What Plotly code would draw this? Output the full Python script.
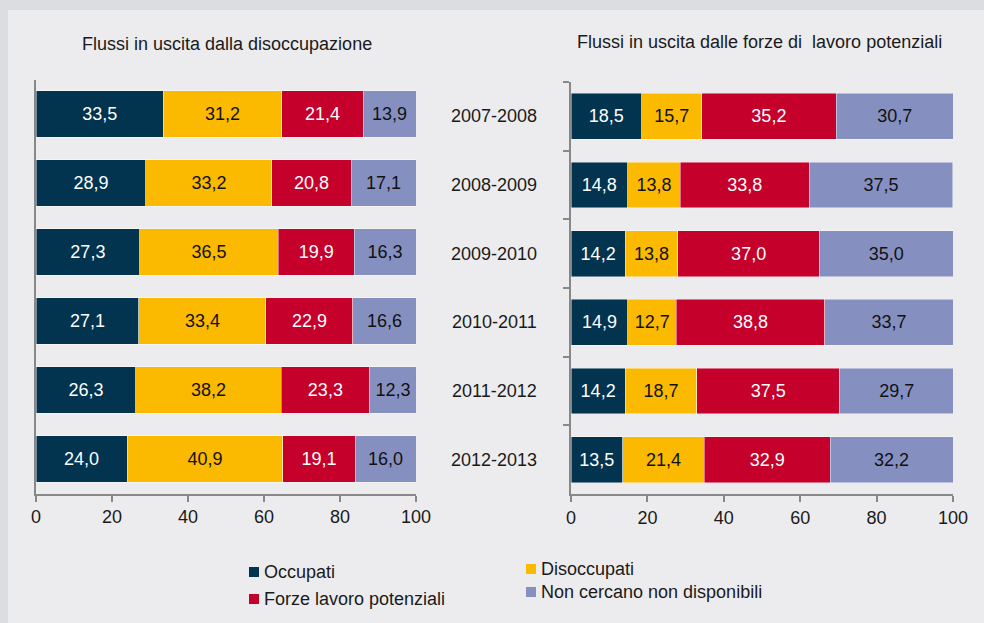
import plotly.graph_objects as go

periods = ["2007-2008", "2008-2009", "2009-2010", "2010-2011", "2011-2012", "2012-2013"]
series_names = ["Occupati", "Disoccupati", "Forze lavoro potenziali", "Non cercano non disponibili"]

# Flussi in uscita dalla disoccupazione
dis_occupati = [33.5, 28.9, 27.3, 27.1, 26.3, 24.0]
dis_disoccupati = [31.2, 33.2, 36.5, 33.4, 38.2, 40.9]
dis_forze = [21.4, 20.8, 19.9, 22.9, 23.3, 19.1]
dis_noncercano = [13.9, 17.1, 16.3, 16.6, 12.3, 16.0]

# Flussi in uscita dalle forze di lavoro potenziali
flp_occupati = [18.5, 14.8, 14.2, 14.9, 14.2, 13.5]
flp_disoccupati = [15.7, 13.8, 13.8, 12.7, 18.7, 21.4]
flp_forze = [35.2, 33.8, 37.0, 38.8, 37.5, 32.9]
flp_noncercano = [30.7, 37.5, 35.0, 33.7, 29.7, 32.2]

x_ticks = [0, 20, 40, 60, 80, 100]
titles = ["Flussi in uscita dalla disoccupazione", "Flussi in uscita dalle forze di  lavoro potenziali"]

colors = ["#02334F", "#FBBA00", "#C4002B", "#8690C0"]
text_colors = ["#FFFFFF", "#111111", "#FFFFFF", "#111111"]
FONT = "Liberation Sans, Arial, sans-serif"
FS = 18

W, H = 984, 623
fig = go.Figure()

left_sets = [dis_occupati, dis_disoccupati, dis_forze, dis_noncercano]
right_sets = [flp_occupati, flp_disoccupati, flp_forze, flp_noncercano]

for i, name in enumerate(series_names):
    for vals, xa, ya in [(left_sets[i], "x", "y"), (right_sets[i], "x2", "y2")]:
        fig.add_trace(go.Bar(
            y=periods, x=vals, orientation="h", name=name,
            xaxis=xa, yaxis=ya, showlegend=False,
            marker=dict(color=colors[i], line=dict(color="rgba(255,255,255,0.55)", width=0.8)),
            width=0.667,
            texttemplate="%{x:.1f}", textposition="inside", insidetextanchor="middle",
            textangle=0,
            textfont=dict(color=text_colors[i], size=FS, family=FONT),
            hoverinfo="skip",
        ))

def px_x(p):
    return p / W

def px_y(p):
    return 1 - p / H

axis_col = "#888888"
common_x = dict(range=[0, 100], tickvals=x_ticks, showgrid=False, zeroline=False,
                showline=True, linecolor=axis_col, linewidth=2,
                ticks="outside", ticklen=6, tickwidth=2, tickcolor=axis_col,
                tickfont=dict(size=FS, family=FONT, color="#1a1a1a"), fixedrange=True)

fig.update_layout(
    width=W, height=H,
    margin=dict(l=0, r=0, t=0, b=0, autoexpand=False),
    paper_bgcolor="#ECECEE", plot_bgcolor="rgba(0,0,0,0)",
    barmode="stack", bargap=0.333,
    separators=",.",
    showlegend=False,
    font=dict(family=FONT, size=FS, color="#1a1a1a"),
    xaxis=dict(domain=[px_x(36), px_x(416)], anchor="y", **common_x),
    yaxis=dict(domain=[px_y(493.5), px_y(79.5)], anchor="x", type="category",
               categoryorder="array", categoryarray=periods, autorange="reversed",
               showticklabels=False, showline=True, linecolor=axis_col, linewidth=2,
               ticks="", showgrid=False, zeroline=False, fixedrange=True),
    xaxis2=dict(domain=[px_x(571), px_x(953)], anchor="y2", **common_x),
    yaxis2=dict(domain=[px_y(494), px_y(82)], anchor="x2", type="category",
                categoryorder="array", categoryarray=periods, autorange="reversed",
                showticklabels=False, showline=True, linecolor=axis_col, linewidth=2,
                ticks="outside", ticklen=6, tickwidth=2, tickcolor=axis_col,
                tickson="boundaries", showgrid=False, zeroline=False, fixedrange=True),
)

# outer frame (darker border on top/left)
fig.add_shape(type="rect", xref="paper", yref="paper", x0=0, x1=1, y0=px_y(10), y1=1,
              fillcolor="#DCDDE0", line=dict(width=0), layer="below")
fig.add_shape(type="rect", xref="paper", yref="paper", x0=0, x1=px_x(8), y0=0, y1=1,
              fillcolor="#DCDDE0", line=dict(width=0), layer="below")

# titles
fig.add_annotation(text=titles[0], xref="paper", yref="paper", x=px_x(226.5), y=px_y(44),
                   showarrow=False, xanchor="center", yanchor="middle",
                   font=dict(size=FS, family=FONT, color="#1a1a1a"))
fig.add_annotation(text=titles[1], xref="paper", yref="paper", x=px_x(759.5), y=px_y(42),
                   showarrow=False, xanchor="center", yanchor="middle",
                   font=dict(size=FS, family=FONT, color="#1a1a1a"))

# category labels between the panels
for p in periods:
    fig.add_annotation(text=p, xref="paper", yref="y2", x=px_x(494), y=p,
                       showarrow=False, xanchor="center", yanchor="middle",
                       font=dict(size=FS, family=FONT, color="#1a1a1a"))

# legend (two columns)
legend_pos = [(249, 572), (526, 569), (249, 599), (526, 592)]
for i, name in enumerate(series_names):
    lx, ly = legend_pos[i]
    fig.add_shape(type="rect", xref="paper", yref="paper",
                  x0=px_x(lx), x1=px_x(lx + 10), y0=px_y(ly + 5), y1=px_y(ly - 5),
                  fillcolor=colors[i], line=dict(width=0))
    fig.add_annotation(text=name, xref="paper", yref="paper", x=px_x(lx + 13), y=px_y(ly),
                       showarrow=False, xanchor="left", yanchor="middle",
                       font=dict(size=FS, family=FONT, color="#1a1a1a"))

fig.write_html(
    "out.html",
    config={"displayModeBar": False, "staticPlot": True},
    post_script="document.body.style.margin='0';document.body.style.overflow='hidden';"
                "document.body.style.background='#ECECEE';",
)
